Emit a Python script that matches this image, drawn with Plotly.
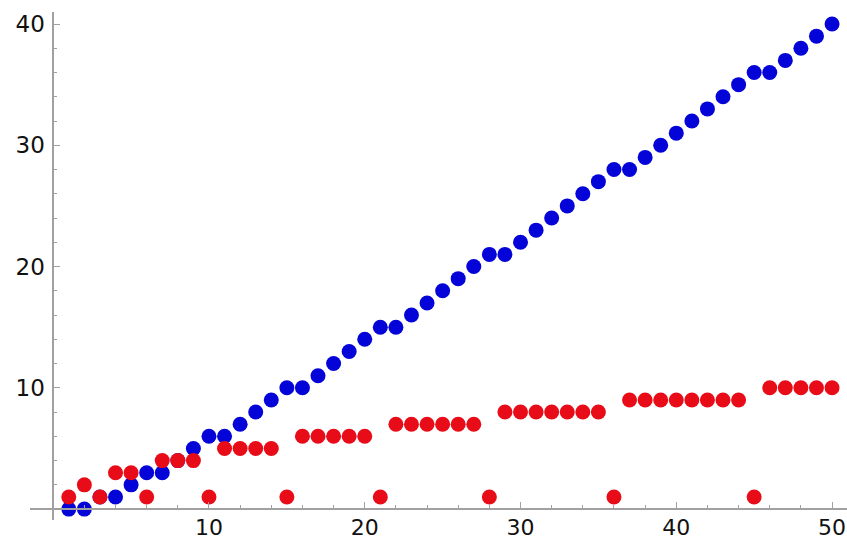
import plotly.graph_objects as go

n_values = list(range(1, 51))
blue_values = [0, 0, 1, 1, 2, 3, 3, 4, 5, 6,
               6, 7, 8, 9, 10, 10, 11, 12, 13, 14,
               15, 15, 16, 17, 18, 19, 20, 21, 21, 22,
               23, 24, 25, 26, 27, 28, 28, 29, 30, 31,
               32, 33, 34, 35, 36, 36, 37, 38, 39, 40]
red_values = [1, 2, 1, 3, 3, 1, 4, 4, 4, 1,
              5, 5, 5, 5, 1, 6, 6, 6, 6, 6,
              1, 7, 7, 7, 7, 7, 7, 1, 8, 8,
              8, 8, 8, 8, 8, 1, 9, 9, 9, 9,
              9, 9, 9, 9, 1, 10, 10, 10, 10, 10]
x_ticks = [10, 20, 30, 40, 50]
y_ticks = [10, 20, 30, 40]

x_range = [-1.49, 50.96]
y_range = [-0.9, 40.99]

fig = go.Figure()
fig.add_trace(go.Scatter(x=n_values, y=blue_values, mode="markers",
                         marker=dict(color="#0404d8", size=15, line=dict(width=0)),
                         showlegend=False, cliponaxis=False, hoverinfo="skip"))
fig.add_trace(go.Scatter(x=n_values, y=red_values, mode="markers",
                         marker=dict(color="#e80c18", size=15, line=dict(width=0)),
                         showlegend=False, cliponaxis=False, hoverinfo="skip"))

axis_color = "#a0a0a0"
tick_font_x = dict(family="DejaVu Sans", size=22, color="#111111")
tick_font_y = dict(family="DejaVu Sans", size=23, color="#111111")

xpos = (0 - y_range[0]) / (y_range[1] - y_range[0])
ypos = (0 - x_range[0]) / (x_range[1] - x_range[0])

fig.update_layout(
    width=847, height=539,
    margin=dict(l=30, r=0, t=12, b=19, autoexpand=False),
    paper_bgcolor="white", plot_bgcolor="white",
    xaxis=dict(range=x_range, anchor="free", position=xpos, automargin=False,
               showgrid=False, zeroline=False, showline=True,
               linecolor=axis_color, linewidth=1.5,
               tickmode="array", tickvals=x_ticks,
               ticks="inside", ticklen=6, tickcolor=axis_color, tickwidth=1,
               tickfont=tick_font_x, ticklabelstandoff=-1,
               minor=dict(tickmode="linear", tick0=0, dtick=2, ticks="inside",
                          ticklen=3, tickcolor=axis_color)),
    yaxis=dict(range=y_range, anchor="free", position=ypos, automargin=False,
               showgrid=False, zeroline=False, showline=True,
               linecolor=axis_color, linewidth=1.5,
               tickmode="array", tickvals=y_ticks,
               ticks="inside", ticklen=6, tickcolor=axis_color, tickwidth=1,
               tickfont=tick_font_y, ticklabelstandoff=3,
               minor=dict(tickmode="linear", tick0=0, dtick=2, ticks="inside",
                          ticklen=3, tickcolor=axis_color)),
)

fig.write_html(
    "out.html",
    config={"displayModeBar": False},
    post_script="document.body.style.margin='0';document.body.style.padding='0';"
                "document.body.style.overflow='hidden';",
)
